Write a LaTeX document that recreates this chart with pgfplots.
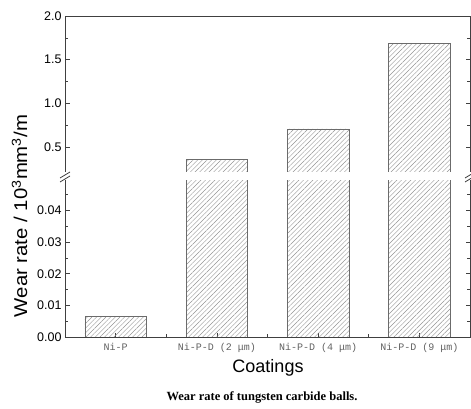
\documentclass[border=0pt]{standalone}
\usepackage{pgfplots}
\pgfplotsset{compat=1.18}
\usepackage{fontspec}
\setmainfont{Liberation Sans}
\newfontfamily\monofont{Liberation Mono}
\newfontfamily\capfont{Liberation Serif}
\usetikzlibrary{patterns.meta}
\definecolor{axgray}{gray}{0.25}
\definecolor{bargray}{gray}{0.42}
\definecolor{hatchgray}{gray}{0.58}
\definecolor{labgray}{gray}{0.38}

\pgfplotsset{
 brk/.style={
  scale only axis, width=405pt,
  xmin=-0.5, xmax=3.5,
  axis line style={axgray, line width=0.8pt},
  tick style={axgray, line width=0.6pt},
  tick align=inside,
  major tick length=4.5pt, minor tick length=2.7pt,
  scaled y ticks=false,
  /pgf/number format/assume math mode=true,
  yticklabel style={font=\fontsize{12.5}{14}\selectfont},
 },
 barsty/.style={ybar, bar width=61.5pt, draw=bargray, line width=0.6pt,
  pattern={Lines[angle=45,distance=3.3pt,line width=0.45pt]}, pattern color=hatchgray},
}

\begin{document}
\begin{tikzpicture}
\path[use as bounding box] (0pt,0pt) rectangle (471pt,409pt);

% upper part
\begin{axis}[brk, at={(65pt,236pt)}, anchor=south west, height=157pt,
  ymin=0.2, ymax=2.0,
  ytick={0.5,1.0,1.5,2.0}, minor ytick={0.75,1.25,1.75},
  yticklabel style={/pgf/number format/fixed, /pgf/number format/fixed zerofill, /pgf/number format/precision=1},
  xtick=\empty, minor xtick={0.5,1.5,2.5}, xtick pos=right]
\addplot[barsty] coordinates {(0,0.0065) (1,0.36) (2,0.705) (3,1.69)};
\end{axis}

% lower part
\begin{axis}[brk, at={(65pt,72pt)}, anchor=south west, height=158pt,
  ymin=0, ymax=0.05,
  ytick={0,0.01,0.02,0.03,0.04}, minor ytick={0.005,0.015,0.025,0.035,0.045},
  yticklabel style={/pgf/number format/fixed, /pgf/number format/fixed zerofill, /pgf/number format/precision=2},
  xtick={0,1,2,3}, minor xtick={0.5,1.5,2.5}, xtick pos=left,
  xticklabels={Ni-P, Ni-P-D (2  μm), Ni-P-D (4  μm), Ni-P-D (9  μm)},
  xticklabel style={font=\monofont\fontsize{10}{12}\selectfont, text=labgray, yshift=-3pt}]
\addplot[barsty] coordinates {(0,0.0065) (1,0.36) (2,0.705) (3,1.69)};
\end{axis}

% axis break
\fill[white] (63pt,229.4pt) rectangle (474pt,236.6pt);
\draw[axgray, line width=0.8pt] (60pt,231pt) -- (70pt,237pt);
\draw[axgray, line width=0.8pt] (60pt,227pt) -- (70pt,233pt);
\draw[axgray, line width=0.8pt] (465pt,231pt) -- (475pt,237pt);
\draw[axgray, line width=0.8pt] (465pt,227pt) -- (475pt,233pt);

\node[rotate=90, font=\fontsize{18.5}{20}\selectfont] at (19.5pt,193pt) {\scalebox{1.1}[1]{Wear rate / 10\textsuperscript{3}mm\textsuperscript{3}/m}};
\node[font=\fontsize{18}{20}\selectfont, anchor=base] at (268pt,36pt) {Coatings};
\node[font=\capfont\bfseries\fontsize{12.5}{14}\selectfont, anchor=base] at (262pt,8pt) {Wear rate of tungsten carbide balls.};
\end{tikzpicture}
\end{document}
